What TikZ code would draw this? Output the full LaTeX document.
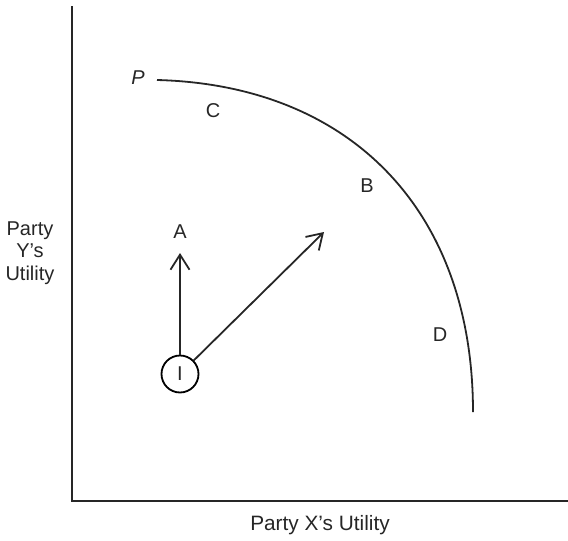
\documentclass[tikz,border=0pt]{standalone}
\usepackage{fontspec}
\setmainfont{Liberation Sans}
\usetikzlibrary{arrows.meta}
\begin{document}
\begin{tikzpicture}[x=1pt,y=-1pt,
  lbl/.style={font=\fontsize{20}{22.5}\selectfont, text=black!85, inner sep=0pt},
  ln/.style={line width=1.8pt, black!85},
  arr/.style={ln, -{Straight Barb[length=15pt,width=19pt,line width=1.8pt]}}]
\useasboundingbox (0,0) rectangle (568,541);
% axes
\coordinate (ytop) at (72,6);
\coordinate (origin) at (72,501);
\coordinate (xend) at (568,501);
\draw[ln, line width=2.2pt] (ytop) -- (origin) -- (xend);
% frontier
\coordinate (Pstart) at (157,80);
\coordinate (Pend) at (473,412);
\draw[ln] (Pstart) .. controls (350,85) and (473,210) .. (Pend);
% labels
\node[lbl, font=\fontsize{20}{22.5}\selectfont\itshape] (P) at (138,78) {P};
\node[lbl] (C) at (213,111) {C};
\node[lbl] (B) at (367,186) {B};
\node[lbl] (D) at (440,335) {D};
\node[lbl] (A) at (180,232) {A};
% status quo
\node[lbl, draw, circle, line width=1.8pt, minimum size=37pt] (I) at (180,374) {I};
\coordinate (tipA) at (180,253);
\coordinate (tipB) at (324,232);
\draw[arr] (I) -- (tipA);
\draw[arr] (I) -- (tipB);
% axis titles
\node[lbl, align=center] (ylab) at (30,253) {Party\\Y’s\\Utility};
\node[lbl, font=\fontsize{20.8}{23}\selectfont] (xlab) at (320,525) {Party X’s Utility};
\end{tikzpicture}
\end{document}
